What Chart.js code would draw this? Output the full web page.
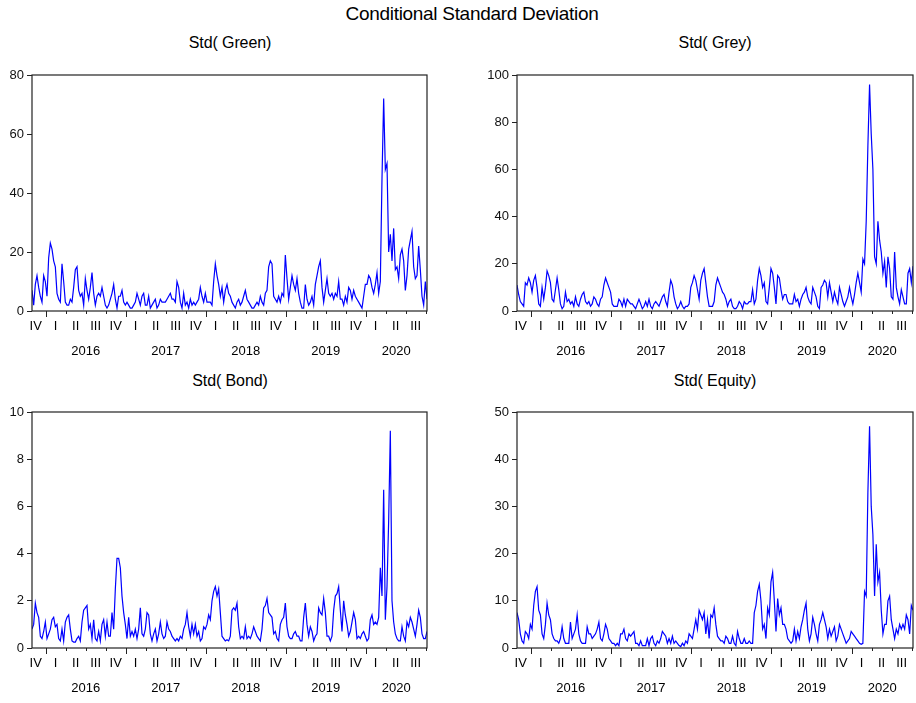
<!DOCTYPE html>
<html>
<head>
<meta charset="utf-8">
<script src="https://cdn.jsdelivr.net/npm/chart.js@4"></script>
<style>
  body { margin: 0; background: #fff; width: 916px; height: 703px; position: relative; overflow: hidden;
         font-family: "Liberation Sans", Arial, sans-serif; }
  .ttl { position: absolute; color: #000; white-space: nowrap; transform: translateX(-50%); }
  canvas { position: absolute; }
</style>
</head>
<body>
<div class="ttl" style="left:472px; top:3px; font-size:19px; letter-spacing:-0.3px;">Conditional Standard Deviation</div>
<div class="ttl" style="left:230px; top:34px; font-size:16px; letter-spacing:-0.1px;">Std( Green)</div>
<div class="ttl" style="left:715px; top:34px; font-size:16px; letter-spacing:-0.1px;">Std( Grey)</div>
<div class="ttl" style="left:230px; top:372px; font-size:16px; letter-spacing:-0.1px;">Std( Bond)</div>
<div class="ttl" style="left:715px; top:372px; font-size:16px; letter-spacing:-0.1px;">Std( Equity)</div>

<canvas id="cGreen" width="458" height="300" style="left:0; top:60px;"></canvas>
<canvas id="cGrey" width="458" height="300" style="left:458px; top:60px;"></canvas>
<canvas id="cBond" width="458" height="300" style="left:0; top:398px;"></canvas>
<canvas id="cEquity" width="458" height="300" style="left:458px; top:398px;"></canvas>

<script>
// weekly samples, first one ~ end of Oct 2015
const START_YEAR = 2016 - 41 / 240;
const PER_YEAR = 48;
const END_YEAR = START_YEAR + 237 / PER_YEAR;

const quarterNames = ['I', 'II', 'III', 'IV'];
const yearLabels = [2016, 2017, 2018, 2019, 2020];

const greenVals = [
  7, 2, 9, 12, 8, 5, 3, 12, 10, 5,
  18, 23, 21, 17, 15, 6, 4, 3, 16, 10,
  3, 2, 2, 4, 3, 8, 14, 15, 7, 5,
  6, 2, 11, 7, 4, 8, 13, 6, 2, 5,
  6, 5, 8, 5, 2, 1, 2, 4, 6, 9,
  4, 1, 5, 5, 7, 3, 2, 3, 2, 1,
  1, 2, 3, 6, 4, 2, 5, 6, 2, 2,
  5, 1, 2, 3, 4, 1, 2, 4, 3, 3,
  3, 4, 5, 6, 4, 4, 3, 10, 8, 3,
  1, 6, 2, 3, 1, 4, 2, 3, 2, 3,
  4, 8, 5, 3, 6, 3, 3, 3, 2, 10,
  16, 12, 9, 5, 8, 3, 7, 9, 6, 5,
  3, 2, 1, 3, 4, 2, 3, 5, 7, 4,
  3, 2, 1, 1, 2, 3, 2, 5, 3, 2,
  6, 7, 15, 17, 16, 5, 4, 3, 5, 3,
  6, 5, 19, 11, 4, 8, 12, 9, 7, 11,
  6, 3, 1, 1, 9, 4, 2, 3, 5, 2,
  9, 12, 15, 17, 8, 3, 7, 11, 6, 5,
  6, 4, 6, 5, 10, 4, 4, 2, 5, 3,
  8, 7, 4, 7, 5, 4, 3, 2, 1, 5,
  9, 9, 12, 11, 8, 6, 9, 13, 6, 10,
  45, 72, 48, 50, 20, 26, 17, 28, 14, 15,
  11, 19, 21, 17, 7, 12, 21, 24, 27, 15,
  11, 12, 22, 14, 5, 2, 10, 4
];

const greyVals = [
  11, 7, 4, 3, 2, 12, 11, 14, 12, 8,
  13, 15, 10, 3, 2, 10, 5, 10, 17, 15,
  12, 5, 4, 9, 14, 9, 3, 1, 2, 8,
  4, 5, 3, 4, 2, 6, 3, 2, 5, 7,
  8, 4, 3, 4, 2, 3, 6, 5, 3, 2,
  5, 6, 11, 14, 12, 10, 8, 3, 2, 2,
  2, 5, 4, 2, 5, 2, 5, 4, 3, 3,
  2, 1, 3, 5, 3, 1, 2, 4, 2, 5,
  2, 1, 3, 4, 3, 2, 4, 6, 7, 4,
  2, 8, 13, 11, 6, 3, 1, 2, 4, 2,
  1, 2, 2, 3, 10, 12, 15, 13, 9, 5,
  13, 16, 18, 12, 6, 2, 2, 2, 4, 11,
  14, 12, 10, 8, 7, 5, 2, 4, 5, 2,
  1, 1, 2, 4, 3, 1, 4, 3, 3, 4,
  4, 9, 3, 5, 13, 18, 15, 10, 12, 4,
  3, 10, 18, 16, 10, 3, 15, 14, 9, 5,
  7, 7, 4, 3, 3, 3, 7, 4, 5, 2,
  5, 7, 8, 10, 6, 4, 3, 10, 8, 6,
  2, 1, 10, 11, 13, 12, 6, 12, 8, 4,
  8, 5, 3, 10, 7, 4, 2, 4, 6, 10,
  6, 3, 7, 12, 16, 12, 8, 22, 20, 38,
  70, 96, 75, 60, 23, 20, 38, 30, 25, 16,
  21, 10, 23, 18, 6, 5, 25, 10, 6, 3,
  9, 6, 3, 3, 16, 18, 12, 19
];

const bondVals = [
  0.8, 1.0, 1.9, 1.5, 1.3, 0.5, 0.4, 0.7, 1.1, 0.4,
  0.6, 0.8, 1.2, 1.3, 0.9, 1.0, 0.4, 0.3, 0.8, 0.3,
  1.1, 1.3, 1.4, 0.8, 0.3, 0.25, 0.25, 0.4, 0.5, 0.3,
  1.1, 1.6, 1.7, 1.8, 0.8, 1.0, 0.4, 1.2, 0.4, 0.3,
  0.7, 0.3, 1.0, 1.2, 0.5, 1.1, 0.5, 0.5, 1.5, 0.8,
  2.5, 3.8, 3.8, 3.4, 2.2, 1.5, 1.0, 0.4, 1.3, 0.5,
  0.7, 0.5, 0.8, 0.4, 0.8, 1.7, 0.6, 0.5, 0.8, 1.5,
  1.4, 0.6, 0.3, 0.6, 0.8, 0.3, 0.6, 1.1, 0.6, 0.4,
  0.5, 1.1, 0.8, 0.7, 0.5, 0.4, 0.3, 0.4, 0.3, 0.5,
  0.4, 0.8, 1.0, 1.5, 0.9, 0.5, 1.0, 0.6, 1.0, 0.5,
  0.7, 0.3, 0.4, 0.9, 0.8, 1.0, 1.4, 1.2, 2.0, 2.4,
  2.6, 2.2, 2.5, 1.5, 0.5, 0.4, 0.3, 0.35, 0.3, 0.5,
  1.6, 1.7, 1.6, 1.9, 0.9, 0.4, 0.5, 0.4, 0.9, 0.4,
  0.5, 0.4, 0.6, 0.9, 0.7, 0.5, 0.4, 0.3, 0.8, 1.7,
  1.8, 2.1, 1.5, 1.4, 1.3, 0.6, 0.7, 0.4, 0.3, 1.0,
  1.2, 1.3, 1.9, 0.9, 0.5, 0.4, 0.4, 0.6, 0.7, 0.5,
  0.5, 0.3, 0.3, 1.3, 1.9, 1.0, 0.5, 0.9, 0.7, 0.3,
  0.5, 0.6, 1.7, 1.5, 1.4, 2.1, 1.5, 0.5, 0.5, 0.3,
  0.5, 1.6, 2.2, 2.3, 2.6, 1.6, 0.7, 2.0, 1.4, 1.0,
  0.5, 0.7, 1.1, 1.5, 1.2, 0.4, 0.5, 0.4, 0.6, 0.7,
  0.5, 0.3, 0.4, 1.2, 1.4, 1.0, 1.1, 1.0, 1.3, 3.4,
  2.2, 6.7, 1.2, 2.6, 5.4, 9.2, 2.0, 1.1, 0.6, 0.4,
  0.3, 0.3, 0.9, 0.5, 0.3, 1.1, 0.9, 1.3, 1.1, 0.8,
  0.5, 1.0, 1.6, 1.3, 0.6, 0.4, 0.4, 0.7
];

const equityVals = [
  7.5, 6, 3, 1.5, 1, 3.5, 3, 2, 5, 4,
  9, 12, 13, 8, 7, 3, 2, 5, 9.5, 7,
  6, 3, 2, 1.5, 1.5, 1, 2, 4.5, 2, 1,
  1, 1, 5.5, 2, 3, 4, 7, 3, 1.5, 1,
  1, 1, 4.5, 3, 3, 2, 2.5, 3, 4, 5.5,
  2, 1.5, 3, 5, 4, 2, 1.5, 1, 1, 0.5,
  1, 0.5, 3, 3, 4, 2, 1.5, 3, 2.5, 3,
  3.5, 1, 1, 0.5, 1.5, 0.5, 0.5, 0.5, 2, 0.5,
  2, 2.5, 1, 0.5, 1.5, 1, 2, 3.5, 3, 2.5,
  1, 2, 1, 2.5, 1, 1.5, 1, 0.5, 0.3, 1,
  0.5, 1.5, 1, 3, 2.5, 2, 4, 6, 4, 8,
  7, 6, 7.5, 3, 6, 2, 7, 6.5, 8.5, 5,
  2.5, 2, 1.5, 1.5, 1, 2.5, 2, 1, 1, 2.5,
  1, 0.5, 3.5, 2, 1, 1, 2, 1, 1, 1.5,
  1, 1, 7.5, 9, 12, 13.5, 10, 4, 5, 2,
  8.5, 7, 14, 16, 10, 3.5, 10.5, 7, 8.5, 5,
  5, 4, 2, 1.5, 1, 1.5, 4, 1.5, 3.5, 2,
  4.5, 6, 8, 9.5, 4, 1.5, 3, 6.5, 5, 3,
  1.5, 5, 6, 7.5, 6, 4.5, 2, 4, 2.5, 3.5,
  4.5, 1.5, 2.5, 5, 4, 3, 2, 1, 1.5, 2,
  3.5, 3, 2.5, 2, 1.5, 1, 0.8, 1, 12, 11,
  33, 47, 30, 24, 11, 22, 14, 16, 8, 3,
  5, 5, 10, 11, 6, 4, 2, 4, 3, 5,
  4, 5, 4, 7, 6, 3, 9, 8
];

const FONT = '"Liberation Sans", Arial, sans-serif';

// frame box + quarter/year axis in the EViews style
const eviewsAxis = {
  id: 'eviewsAxis',
  afterDraw(chart) {
    const { ctx, chartArea: a, scales: { x } } = chart;
    ctx.save();
    ctx.strokeStyle = '#222';
    ctx.lineWidth = 1.2;
    ctx.strokeRect(a.left, a.top, a.right - a.left, a.bottom - a.top);

    ctx.lineWidth = 1;
    for (let q = Math.ceil(x.min * 4) / 4; q <= x.max + 1e-9; q += 0.25) {
      const px = Math.round(x.getPixelForValue(q)) + 0.5;
      const isYear = Math.abs(q - Math.round(q)) < 1e-6;
      ctx.beginPath();
      ctx.moveTo(px, a.bottom);
      ctx.lineTo(px, a.bottom + (isYear ? 6 : 3));
      ctx.stroke();
    }

    ctx.fillStyle = '#000';
    ctx.font = '13px ' + FONT;
    ctx.textAlign = 'center';
    ctx.textBaseline = 'middle';
    for (let yr = Math.floor(x.min); yr <= Math.ceil(x.max); yr++) {
      quarterNames.forEach((name, k) => {
        const c = yr + k * 0.25 + 0.125;
        if (c < x.min || c > x.max) return;
        ctx.fillText(name, x.getPixelForValue(c), a.bottom + 15);
      });
    }
    yearLabels.forEach(yr => {
      const lo = Math.max(yr, x.min), hi = Math.min(yr + 1, x.max);
      if (hi <= lo) return;
      ctx.fillText(String(yr), x.getPixelForValue((lo + hi) / 2), a.bottom + 40);
    });
    ctx.restore();
  }
};

function makePanel(id, values, yMax, yStep, padLeft, padRight, padTop, padBottom) {
  const points = values.map((v, i) => ({ x: START_YEAR + i / PER_YEAR, y: v }));
  new Chart(document.getElementById(id), {
    type: 'line',
    data: {
      datasets: [{
        data: points,
        borderColor: '#0000ff',
        borderWidth: 1.2,
        pointRadius: 0,
        tension: 0,
        fill: false
      }]
    },
    options: {
      responsive: false,
      animation: false,
      parsing: false,
      layout: { padding: { left: padLeft, right: padRight, top: padTop, bottom: padBottom } },
      plugins: { legend: { display: false }, tooltip: { enabled: false } },
      scales: {
        x: { type: 'linear', display: false, min: START_YEAR, max: END_YEAR },
        y: {
          min: 0, max: yMax,
          ticks: { stepSize: yStep, color: '#111', padding: 3, font: { size: 13, family: FONT } },
          grid: { drawOnChartArea: false, drawTicks: true, tickLength: 5, color: '#222' },
          border: { display: false },
          afterFit(s) { s.width = 32; }
        }
      }
    },
    plugins: [eviewsAxis]
  });
}

makePanel('cGreen', greenVals, 80, 20, 0, 31, 15, 49);
makePanel('cGrey', greyVals, 100, 20, 27, 3, 15, 49);
makePanel('cBond', bondVals, 10, 2, 0, 31, 14, 50);
makePanel('cEquity', equityVals, 50, 10, 27, 3, 14, 50);
</script>
</body>
</html>
